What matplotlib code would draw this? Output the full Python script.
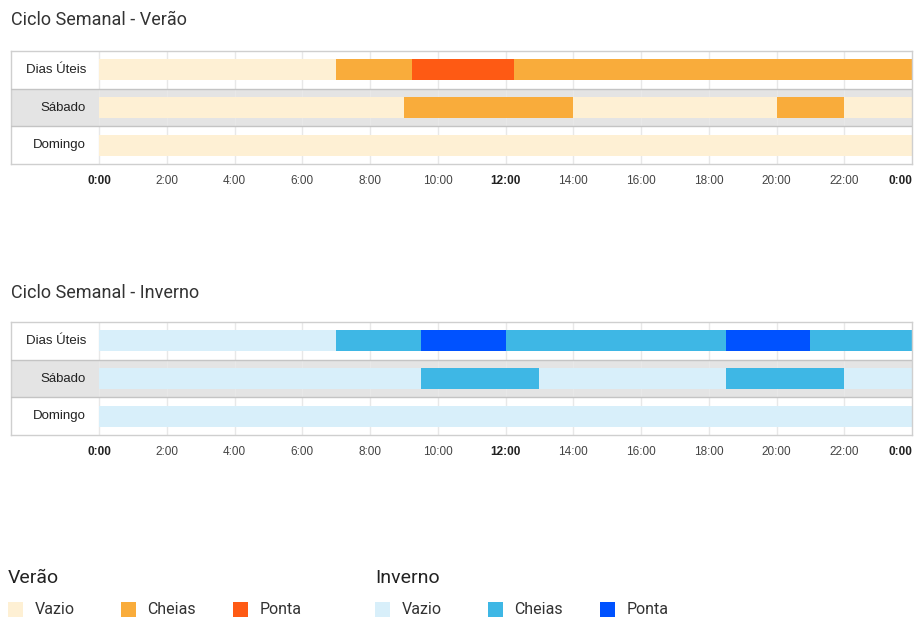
import matplotlib
matplotlib.use("Agg")
import matplotlib.pyplot as plt
from matplotlib.patches import Rectangle

# ---- data -------------------------------------------------------------
day_rows = ["Dias Úteis", "Sábado", "Domingo"]
hour_ticks = list(range(0, 25, 2))
hour_labels = ["0:00", "2:00", "4:00", "6:00", "8:00", "10:00", "12:00",
               "14:00", "16:00", "18:00", "20:00", "22:00", "0:00"]
bold_ticks = [0, 12, 24]
periods = ["Vazio", "Cheias", "Ponta"]

# (start hour, end hour, period)
verao_dias_uteis = [(0, 7, "Vazio"), (7, 9.25, "Cheias"), (9.25, 12.25, "Ponta"),
                    (12.25, 24, "Cheias")]
verao_sabado = [(0, 9, "Vazio"), (9, 14, "Cheias"), (14, 20, "Vazio"),
                (20, 22, "Cheias"), (22, 24, "Vazio")]
verao_domingo = [(0, 24, "Vazio")]

inverno_dias_uteis = [(0, 7, "Vazio"), (7, 9.5, "Cheias"), (9.5, 12, "Ponta"),
                      (12, 18.5, "Cheias"), (18.5, 21, "Ponta"), (21, 24, "Cheias")]
inverno_sabado = [(0, 9.5, "Vazio"), (9.5, 13, "Cheias"), (13, 18.5, "Vazio"),
                  (18.5, 22, "Cheias"), (22, 24, "Vazio")]
inverno_domingo = [(0, 24, "Vazio")]

verao_colors = {"Vazio": "#FEF0D4", "Cheias": "#F9AC3B", "Ponta": "#FE5A14"}
inverno_colors = {"Vazio": "#D8EFFA", "Cheias": "#3EB7E5", "Ponta": "#0052FF"}

# ---- figure -----------------------------------------------------------
W, H = 915, 619
fig = plt.figure(figsize=(W / 100, H / 100), dpi=100)
fig.patch.set_facecolor("white")

CHART_FONT = ["Liberation Sans", "DejaVu Sans"]
TITLE_FONT = ["Roboto", "DejaVu Sans"]


def px_axes(x0, y0, x1, y1):
    return fig.add_axes([x0 / W, 1 - y1 / H, (x1 - x0) / W, (y1 - y0) / H])


def timeline(title, title_y, top, bottom, rows_segments, colors):
    left_px, zero_px, right_px = 11, 99, 912
    hours_per_px = 24 / (right_px - zero_px)
    x_min = -(zero_px - left_px) * hours_per_px

    fig.text(11 / W, 1 - title_y / H, title, fontsize=13, color="#333333",
             family=TITLE_FONT, va="center", ha="left")

    ax = px_axes(left_px, top, right_px, bottom)
    ax.set_xlim(x_min, 24)
    ax.set_ylim(2.5, -0.5)

    # Saturday band shading
    ax.axhspan(0.5, 1.5, color="#E4E4E4", zorder=0, lw=0)
    # vertical hour grid
    for h in hour_ticks[:-1]:
        ax.plot([h, h], [-0.5, 2.5], color="#E8E8E8", lw=1, zorder=1)
    # row separators
    for y in (0.5, 1.5):
        ax.axhline(y, color="#C4C4C4", lw=1, zorder=3)

    for i, segs in enumerate(rows_segments):
        for start, end, period in segs:
            ax.barh(i, end - start, left=start, height=0.56,
                    color=colors[period], lw=0, zorder=2)
        ax.text(-0.38, i, day_rows[i], ha="right", va="center",
                fontsize=9.5, color="#222222", family=CHART_FONT)

    for s in ax.spines.values():
        s.set_color("#CFCFCF")
        s.set_linewidth(1)

    ax.set_yticks([])
    ax.set_xticks(hour_ticks)
    ax.set_xticklabels(hour_labels, fontsize=8.5, color="#444444",
                       family=CHART_FONT)
    ax.tick_params(axis="x", length=0, pad=8)
    labels = ax.get_xticklabels()
    for h, lab in zip(hour_ticks, labels):
        if h in bold_ticks:
            lab.set_fontweight("bold")
            lab.set_color("#222222")
    labels[-1].set_horizontalalignment("right")
    return ax


timeline("Ciclo Semanal - Verão", 20, 51, 164,
         [verao_dias_uteis, verao_sabado, verao_domingo], verao_colors)
timeline("Ciclo Semanal - Inverno", 293, 322, 435,
         [inverno_dias_uteis, inverno_sabado, inverno_domingo], inverno_colors)

# ---- legend -----------------------------------------------------------
lax = fig.add_axes([0, 0, 1, 1], zorder=-1)
lax.set_xlim(0, W)
lax.set_ylim(H, 0)
lax.axis("off")


def legend_group(x0, heading, colors):
    lax.text(x0, 578, heading, fontsize=14, color="#222222",
             family=TITLE_FONT, va="center", ha="left")
    for k, period in enumerate(periods):
        sx = x0 + k * 112.5
        lax.add_patch(Rectangle((sx, 602), 15, 15, color=colors[period], lw=0))
        lax.text(sx + 27, 610, period, fontsize=11.5, color="#333333",
                 family=TITLE_FONT, va="center", ha="left")


legend_group(8, "Verão", verao_colors)
legend_group(375, "Inverno", inverno_colors)

fig.savefig("out.png", dpi=100, facecolor="white")
